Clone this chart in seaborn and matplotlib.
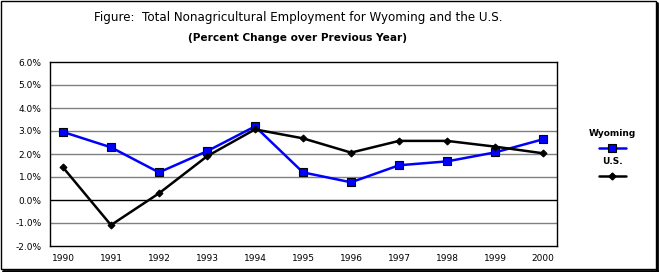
import matplotlib
matplotlib.use("Agg")
import matplotlib.pyplot as plt
import seaborn as sns
import pandas as pd
from matplotlib.lines import Line2D
from matplotlib.patches import Rectangle

years = [1990, 1991, 1992, 1993, 1994, 1995, 1996, 1997, 1998, 1999, 2000]
wyoming = [2.96, 2.29, 1.20, 2.12, 3.20, 1.20, 0.77, 1.51, 1.68, 2.07, 2.64]
us = [1.42, -1.09, 0.29, 1.90, 3.07, 2.68, 2.06, 2.57, 2.57, 2.32, 2.03]
yticks = [-2, -1, 0, 1, 2, 3, 4, 5, 6]

df = pd.DataFrame({
    "Year": years * 2,
    "Value": wyoming + us,
    "Series": ["Wyoming"] * len(years) + ["U.S."] * len(years),
})

sns.set_style("white")
plt.rcParams['font.family'] = ['DejaVu Sans']
plt.rcParams['text.color'] = 'black'
plt.rcParams['xtick.color'] = 'black'
plt.rcParams['ytick.color'] = 'black'

W, H = 659, 272
fig = plt.figure(figsize=(W / 100, H / 100), dpi=100)
ax = fig.add_axes([50 / W, 1 - 246 / H, (557 - 50) / W, (246 - 62) / H])

sns.lineplot(data=df, x="Year", y="Value", hue="Series", style="Series",
             palette={"Wyoming": "#0000ff", "U.S.": "#000000"},
             markers={"Wyoming": "s", "U.S.": "D"}, dashes=False,
             ax=ax, legend=False, linewidth=1.8, markeredgecolor="black",
             markeredgewidth=0.8)
for line in ax.get_lines():
    if line.get_marker() == "s":
        line.set_markersize(6)
    else:
        line.set_markersize(3.5)
        line.set_markerfacecolor("black")

ax.set_xlim(1989.73, 2000.29)
ax.set_ylim(-2, 6)
ax.set_yticks(yticks)
ax.set_yticklabels([f"{v:.1f}%" for v in yticks], fontsize=6.5, color="black")
ax.set_xticks(years)
ax.set_xticklabels([str(y) for y in years], fontsize=6.5, color="black")
ax.set_xlabel("")
ax.set_ylabel("")
ax.tick_params(axis="both", length=0, pad=6)
for v in yticks[1:-1]:
    ax.axhline(v, color="black" if v == 0 else "#808080", linewidth=1, zorder=0)
for s in ax.spines.values():
    s.set_color("black")
    s.set_linewidth(1)

fig.text(298 / W, 1 - 18 / H, "Figure:  Total Nonagricultural Employment for Wyoming and the U.S.",
         ha="center", va="center", fontsize=8.6, color="black")
fig.text(298 / W, 1 - 38 / H, "(Percent Change over Previous Year)",
         ha="center", va="center", fontsize=7.6, fontweight="bold", color="black")

# legend
fig.text(612 / W, 1 - 134 / H, "Wyoming", ha="center", va="center", fontsize=6.5,
         fontweight="bold", color="black")
fig.add_artist(Line2D([599 / W, 626 / W], [1 - 148 / H, 1 - 148 / H], color="#0000ff",
                      linewidth=1.8, transform=fig.transFigure))
fig.add_artist(Line2D([612 / W], [1 - 148 / H], marker="s", markersize=6, color="#0000ff",
                      markeredgecolor="black", markeredgewidth=0.8, transform=fig.transFigure))
fig.text(612 / W, 1 - 162 / H, "U.S.", ha="center", va="center", fontsize=6.5,
         fontweight="bold", color="black")
fig.add_artist(Line2D([599 / W, 626 / W], [1 - 176 / H, 1 - 176 / H], color="black",
                      linewidth=1.8, transform=fig.transFigure))
fig.add_artist(Line2D([612 / W], [1 - 176 / H], marker="D", markersize=3.5, color="black",
                      transform=fig.transFigure))

# outer frame with shadow
fig.add_artist(Rectangle((1 / W, 3 / H), (W - 4) / W, (H - 4) / H, transform=fig.transFigure,
                         fill=False, edgecolor="black", linewidth=1))
fig.add_artist(Line2D([(W - 2) / W, (W - 2) / W], [1 / H, 1 - 3 / H], color="black",
                      linewidth=2, transform=fig.transFigure))
fig.add_artist(Line2D([3 / W, (W - 1) / W], [1.5 / H, 1.5 / H], color="black",
                      linewidth=2, transform=fig.transFigure))

fig.savefig("out.png", dpi=100)
